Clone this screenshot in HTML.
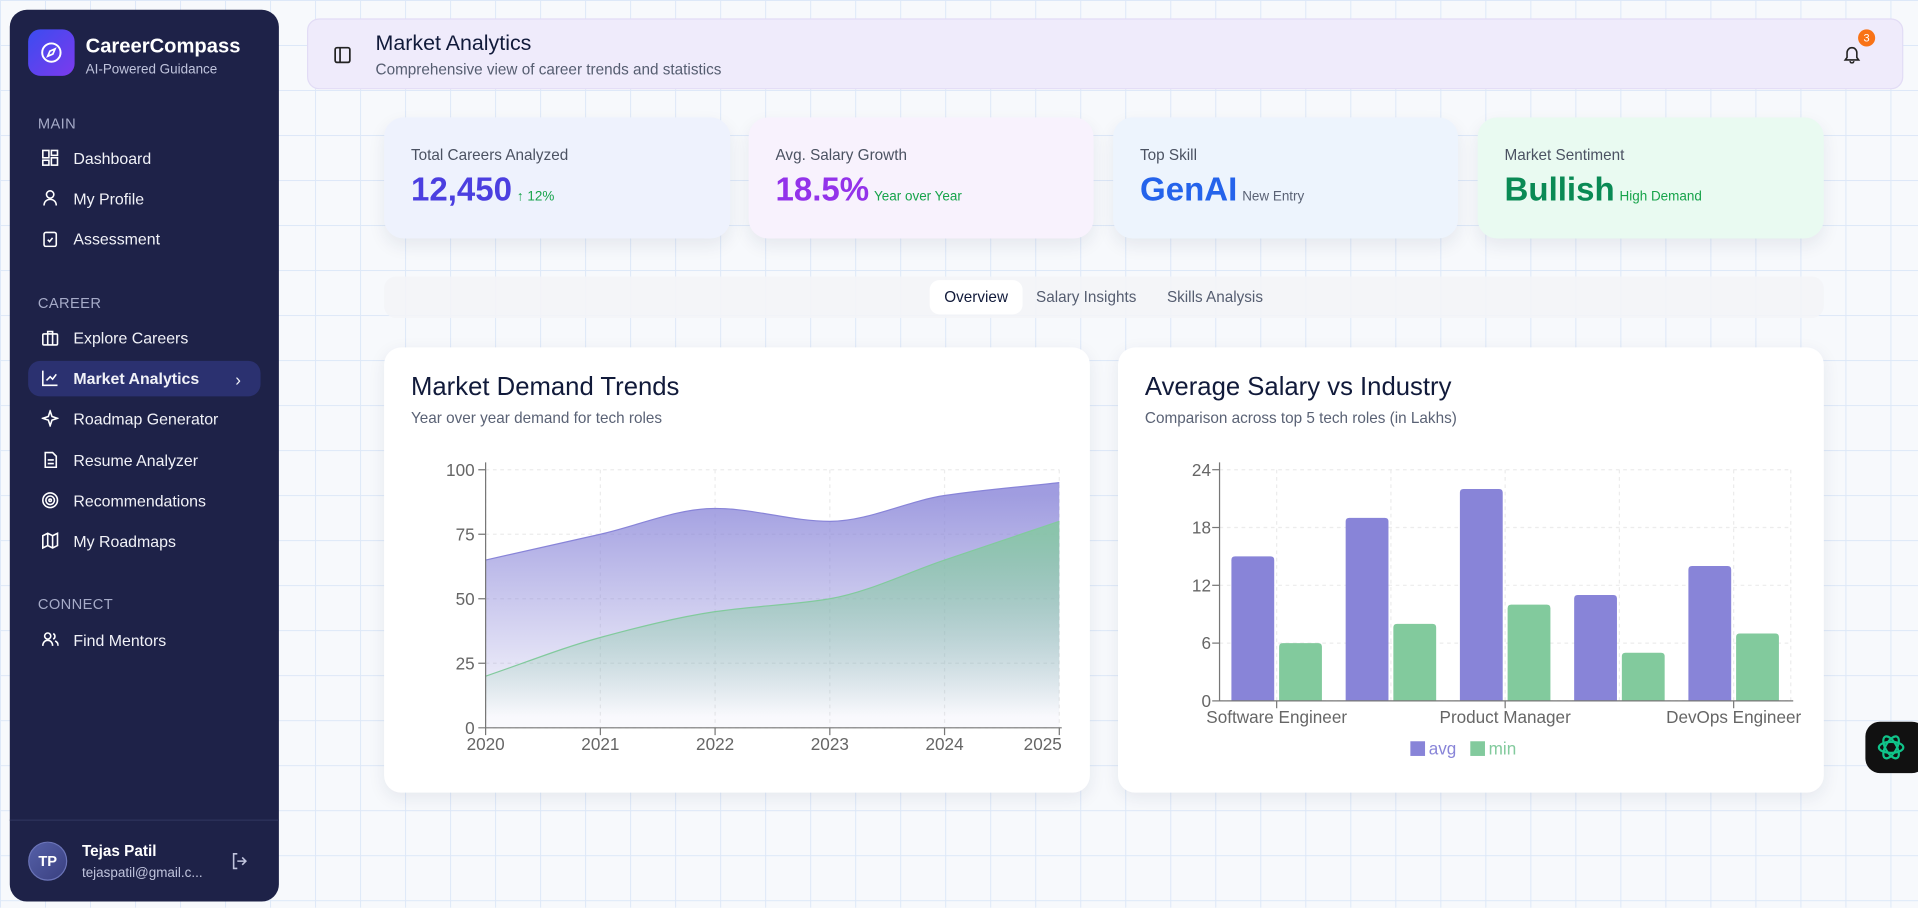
<!DOCTYPE html>
<html><head><meta charset="utf-8">
<style>
*{box-sizing:border-box;margin:0;padding:0}
html,body{width:1918px;height:908px;overflow:hidden;font-family:"Liberation Sans",sans-serif}
body{background:#f7f9fc}
#root{position:absolute;left:0;top:0;width:1568px;height:742px;transform:scale(1.22321);transform-origin:0 0;
background-color:#f7f9fc;
background-image:linear-gradient(#dde8f8 1px,transparent 1px),linear-gradient(90deg,#dde8f8 1px,transparent 1px);
background-size:36.8px 36.8px}
.abs{position:absolute}
.side{left:8px;top:8px;width:220px;height:729px;background:#1e2248;border-radius:14px;color:#fff}
.nav{position:absolute;left:15px;width:190px;height:29px;border-radius:10px;font-size:13px;display:flex;align-items:center;padding-left:37px;color:#f1f2f8}
.nav svg{position:absolute;left:11px;top:7px}
.sec{position:absolute;left:23px;font-size:12px;color:#a6abc8;letter-spacing:.3px}
.card{position:absolute;border-radius:16px;box-shadow:0 6px 14px rgba(30,40,80,.08)}
.lbl{position:absolute;left:22px;top:24px;font-size:12.5px;color:#4b5262}
.val{position:absolute;left:22px;top:44px;font-size:27px;font-weight:bold;white-space:nowrap}
.val span{font-size:11px;font-weight:normal;margin-left:4px}
.panel{position:absolute;top:284px;width:577px;height:364px;background:#fff;border-radius:14px;box-shadow:0 4px 14px rgba(30,40,80,.08)}
.ptitle{position:absolute;left:22px;top:21px;font-size:21px;color:#111a3a}
.psub{position:absolute;left:22px;top:51px;font-size:12.5px;color:#5a6275}
</style></head><body>
<div id="root">
<div class="abs side">
  <div class="abs" style="left:15px;top:16px;width:38px;height:38px;border-radius:10px;background:linear-gradient(135deg,#3b4cf0,#7c3aed)">
    <svg width="38" height="38"><circle cx="19" cy="19" r="7.5" fill="none" stroke="#fff" stroke-width="1.6"/><path d="M22 16l-1.8 4.2L16 22l1.8-4.2z" fill="none" stroke="#fff" stroke-width="1.4"/></svg>
  </div>
  <div class="abs" style="left:62px;top:21px;font-size:16.5px;font-weight:bold">CareerCompass</div>
  <div class="abs" style="left:62px;top:43px;font-size:11px;color:#c0c4dd">AI-Powered Guidance</div>
  <div class="sec" style="top:86px;left:23px">MAIN</div>
  <div class="nav" style="top:107px"><svg width="14" height="14" fill="none" stroke="#fff" stroke-width="1.3"><rect x="1" y="1" width="5" height="6"/><rect x="8" y="1" width="5" height="4"/><rect x="1" y="9" width="5" height="4"/><rect x="8" y="7" width="5" height="6"/></svg>Dashboard</div>
  <div class="nav" style="top:140px"><svg width="14" height="14" fill="none" stroke="#fff" stroke-width="1.3"><circle cx="7" cy="4" r="3"/><path d="M2 13c0-3 2-5 5-5s5 2 5 5"/></svg>My Profile</div>
  <div class="nav" style="top:173px"><svg width="14" height="14" fill="none" stroke="#fff" stroke-width="1.3"><rect x="2" y="2" width="10" height="11.5" rx="1.5"/><path d="M5 8l1.5 1.5L9 6.5"/></svg>Assessment</div>
  <div class="sec" style="top:233px">CAREER</div>
  <div class="nav" style="top:254px"><svg width="14" height="14" fill="none" stroke="#fff" stroke-width="1.3"><rect x="1" y="4" width="12" height="9" rx="1"/><path d="M5 4V2h4v2M5 4v9M9 4v9"/></svg>Explore Careers</div>
  <div class="nav" style="top:287px;background:#2b3170;font-weight:bold"><svg width="14" height="14" fill="none" stroke="#fff" stroke-width="1.3"><path d="M1 1v12h12M4 9l3-3 2 2 3-4"/></svg>Market Analytics<span style="position:absolute;right:16px;font-weight:normal;font-size:14px">›</span></div>
  <div class="nav" style="top:320px"><svg width="14" height="14" fill="none" stroke="#fff" stroke-width="1.3"><path d="M7 1l1.5 4.5L13 7l-4.5 1.5L7 13l-1.5-4.5L1 7l4.5-1.5z"/></svg>Roadmap Generator</div>
  <div class="nav" style="top:354px"><svg width="14" height="14" fill="none" stroke="#fff" stroke-width="1.3"><path d="M3 1h6l3 3v9H3z M5 7h5M5 10h5"/></svg>Resume Analyzer</div>
  <div class="nav" style="top:387px"><svg width="14" height="14" fill="none" stroke="#fff" stroke-width="1.3"><circle cx="7" cy="7" r="6"/><circle cx="7" cy="7" r="3.5"/><circle cx="7" cy="7" r="1"/></svg>Recommendations</div>
  <div class="nav" style="top:420px"><svg width="14" height="14" fill="none" stroke="#fff" stroke-width="1.3"><path d="M1 3l4-2 4 2 4-2v10l-4 2-4-2-4 2zM5 1v10M9 3v10"/></svg>My Roadmaps</div>
  <div class="sec" style="top:479px">CONNECT</div>
  <div class="nav" style="top:501px"><svg width="14" height="14" fill="none" stroke="#fff" stroke-width="1.3"><circle cx="5" cy="4" r="2.5"/><path d="M1 12c0-3 2-4.5 4-4.5s4 1.5 4 4.5M9.5 2a2.5 2.5 0 010 4.5M11 8c1.5.5 2.5 2 2.5 4"/></svg>Find Mentors</div>
  <div class="abs" style="left:0;top:662px;width:220px;height:1px;background:#2e335c"></div>
  <div class="abs" style="left:15px;top:680px;width:32px;height:32px;border-radius:50%;background:linear-gradient(135deg,#5560a8,#3a4080);border:1.5px solid #6b74b8;font-size:12px;font-weight:bold;display:flex;align-items:center;justify-content:center">TP</div>
  <div class="abs" style="left:59px;top:681px;font-size:12.5px;font-weight:bold">Tejas Patil</div>
  <div class="abs" style="left:59px;top:700px;font-size:11px;color:#c0c4dd">tejaspatil@gmail.c...</div>
  <svg class="abs" style="left:181px;top:689px" width="14" height="14" fill="none" stroke="#c0c4dd" stroke-width="1.3"><path d="M5 1H2v12h3M9 4l3 3-3 3M12 7H5"/></svg>
</div>

<div class="abs" style="left:251px;top:15px;width:1305px;height:58px;background:#efebfb;border:1px solid #e2dcf5;border-radius:10px">
  <svg class="abs" style="left:21px;top:22px" width="14" height="14" fill="none" stroke="#222" stroke-width="1.4"><rect x="1" y="1" width="12" height="12" rx="1.5"/><path d="M5 1v12"/></svg>
  <div class="abs" style="left:55px;top:9px;font-size:17.5px;color:#111a3a">Market Analytics</div>
  <div class="abs" style="left:55px;top:34px;font-size:12.5px;color:#555d70">Comprehensive view of career trends and statistics</div>
  <svg class="abs" style="left:1255px;top:21px" width="14" height="15" fill="none" stroke="#222" stroke-width="1.3"><path d="M3 10V6a4 4 0 018 0v4l1.5 2h-11zM5.5 13a1.5 1.5 0 003 0"/></svg>
  <div class="abs" style="left:1267px;top:8px;width:14px;height:14px;border-radius:50%;background:#f97316;color:#fff;font-size:9px;display:flex;align-items:center;justify-content:center">3</div>
</div>

<div class="card" style="left:314px;top:96px;width:283px;height:99px;background:#eef2fd"><div class="lbl">Total Careers Analyzed</div><div class="val" style="color:#4b3fe0">12,450<span style="color:#16a34a">↑ 12%</span></div></div>
<div class="card" style="left:612px;top:96px;width:282px;height:99px;background:#f8f2fd"><div class="lbl">Avg. Salary Growth</div><div class="val" style="color:#9333ea">18.5%<span style="color:#16a34a">Year over Year</span></div></div>
<div class="card" style="left:910px;top:96px;width:282px;height:99px;background:#edf4fd"><div class="lbl">Top Skill</div><div class="val" style="color:#2563eb">GenAI<span style="color:#5a6275">New Entry</span></div></div>
<div class="card" style="left:1208px;top:96px;width:283px;height:99px;background:#e9faf1"><div class="lbl">Market Sentiment</div><div class="val" style="color:#0a8a55">Bullish<span style="color:#16a34a">High Demand</span></div></div>

<div class="abs" style="left:314px;top:226px;width:1177px;height:34px;background:#f3f4f7;border-radius:10px;opacity:.9"></div>
<div class="abs" style="left:760px;top:229px;width:76px;height:28px;background:#fff;border-radius:8px;font-size:12.5px;color:#111a3a;display:flex;align-items:center;justify-content:center">Overview</div>
<div class="abs" style="left:847px;top:236px;font-size:12.5px;color:#555d70">Salary Insights</div>
<div class="abs" style="left:954px;top:236px;font-size:12.5px;color:#555d70">Skills Analysis</div>

<div class="panel" style="left:314px">
  <div class="ptitle">Market Demand Trends</div>
  <div class="psub">Year over year demand for tech roles</div>
  <svg id="c1" class="abs" style="left:0;top:0" width="577" height="364"></svg>
</div>
<div class="panel" style="left:914px">
  <div class="ptitle">Average Salary vs Industry</div>
  <div class="psub">Comparison across top 5 tech roles (in Lakhs)</div>
  <svg id="c2" class="abs" style="left:0;top:0" width="577" height="364"></svg>
</div>

<div class="abs" style="left:1525px;top:590px;width:50px;height:42px;border-radius:12px;background:#111;">
  <svg width="42" height="42"><g fill="none" stroke="#10c48a" stroke-width="1.8"><ellipse cx="21" cy="21" rx="10" ry="4.5"/><ellipse cx="21" cy="21" rx="10" ry="4.5" transform="rotate(60 21 21)"/><ellipse cx="21" cy="21" rx="10" ry="4.5" transform="rotate(120 21 21)"/></g></svg>
</div>
</div>

<script>
const NS='http://www.w3.org/2000/svg';
// Chart 1 data
const years=['2020','2021','2022','2023','2024','2025'];
const demandA=[65,75,85,80,90,95];
const demandB=[20,35,45,50,65,80];
const yTicks1=[0,25,50,75,100];
// Chart 2 data
const roles=['Software Engineer','Data Scientist','Product Manager','UX Designer','DevOps Engineer'];
const salaryAvg=[15,19,22,11,14];
const salaryMin=[6,8,10,5,7];
const yTicks2=[0,6,12,18,24];

function el(p,tag,attrs,txt){const e=document.createElementNS(NS,tag);for(const k in attrs)e.setAttribute(k,attrs[k]);if(txt!=null)e.textContent=txt;p.appendChild(e);return e;}
function monotone(pts){
  const n=pts.length;const d=[],m=[];
  for(let i=0;i<n-1;i++)d.push((pts[i+1][1]-pts[i][1])/(pts[i+1][0]-pts[i][0]));
  for(let i=0;i<n;i++){
    if(i===0)m.push(d[0]);else if(i===n-1)m.push(d[n-2]);
    else m.push(d[i-1]*d[i]<=0?0:2/(1/d[i-1]+1/d[i]));
  }
  let s='M'+pts[0][0]+','+pts[0][1];
  for(let i=0;i<n-1;i++){const h=(pts[i+1][0]-pts[i][0])/3;
    s+=' C'+(pts[i][0]+h)+','+(pts[i][1]+m[i]*h)+' '+(pts[i+1][0]-h)+','+(pts[i+1][1]-m[i+1]*h)+' '+pts[i+1][0]+','+pts[i+1][1];}
  return s;
}
// ---- Chart 1 ----
(function(){
  const s=document.getElementById('c1');
  const X0=83,X1=552,Y0=311,Y1=100;
  const x=i=>X0+(X1-X0)*i/(years.length-1);
  const y=v=>Y0-(Y0-Y1)*v/100;
  const defs=el(s,'defs',{});
  const g1=el(defs,'linearGradient',{id:'ga',x1:0,y1:0,x2:0,y2:1});
  el(g1,'stop',{offset:'5%','stop-color':'#8884d8','stop-opacity':.8});el(g1,'stop',{offset:'95%','stop-color':'#8884d8','stop-opacity':.05});
  const g2=el(defs,'linearGradient',{id:'gb',x1:0,y1:0,x2:0,y2:1});
  el(g2,'stop',{offset:'5%','stop-color':'#82ca9d','stop-opacity':.8});el(g2,'stop',{offset:'95%','stop-color':'#82ca9d','stop-opacity':0});
  yTicks1.forEach(t=>{const l=el(s,'line',{x1:X0,x2:X1,y1:y(t),y2:y(t),stroke:'#ececec','stroke-dasharray':'3 3'});});
  years.forEach((yr,i)=>{el(s,'line',{x1:x(i),x2:x(i),y1:Y1,y2:Y0,stroke:'#ececec','stroke-dasharray':'3 3'});});
  [[demandA,'ga','#8884d8','area-series-a'],[demandB,'gb','#82ca9d','area-series-b']].forEach(([arr,gid,col,nm])=>{
    const pts=arr.map((v,i)=>[x(i),y(v)]);const line=monotone(pts);
    const a=el(s,'path',{d:line+' L'+X1+','+Y0+' L'+X0+','+Y0+'Z',fill:'url(#'+gid+')'});
    
    
    el(s,'path',{d:line,fill:'none',stroke:col,'stroke-width':1});
  });
  el(s,'line',{x1:X0,x2:X0,y1:Y1-6,y2:Y0,stroke:'#777'});
  el(s,'line',{x1:X0,x2:X1+2,y1:Y0,y2:Y0,stroke:'#777'});
  yTicks1.forEach(t=>{el(s,'line',{x1:X0-6,x2:X0,y1:y(t),y2:y(t),stroke:'#777'});
    const tx=el(s,'text',{x:X0-9,y:y(t)+5,'text-anchor':'end','font-size':14,fill:'#666','font-family':'Liberation Sans'},t);
    });
  years.forEach((yr,i)=>{el(s,'line',{x1:x(i),x2:x(i),y1:Y0,y2:Y0+6,stroke:'#777'});
    const tx=el(s,'text',{x:i===years.length-1?x(i)+2:x(i),y:Y0+18,'text-anchor':i===years.length-1?'end':'middle','font-size':14,fill:'#666','font-family':'Liberation Sans'},yr);
    });
})();
// ---- Chart 2 ----
(function(){
  const s=document.getElementById('c2');
  const X0=83,X1=550,Y0=289,Y1=100;
  const band=(X1-X0)/roles.length;
  const y=v=>Y0-(Y0-Y1)*v/24;
  const bw=35,gap=4;
  yTicks2.forEach(t=>{el(s,'line',{x1:X0,x2:X1,y1:y(t),y2:y(t),stroke:'#ececec','stroke-dasharray':'3 3'});});
  roles.forEach((r,i)=>{const cx=X0+band*(i+.5);el(s,'line',{x1:cx,x2:cx,y1:Y1,y2:Y0,stroke:'#ececec','stroke-dasharray':'3 3'});});
  el(s,'line',{x1:X1,x2:X1,y1:Y1,y2:Y0,stroke:'#ececec','stroke-dasharray':'3 3'});
  function bar(v,xl,col,nm){const yt=y(v),r=3;
    const p=el(s,'path',{d:`M${xl},${Y0} V${yt+r} Q${xl},${yt} ${xl+r},${yt} H${xl+bw-r} Q${xl+bw},${yt} ${xl+bw},${yt+r} V${Y0}Z`,fill:col});
    
    }
  roles.forEach((r,i)=>{const c=X0+band*(i+.5);
    bar(salaryAvg[i],c-gap/2-bw,'#8884d8','bar-avg');
    bar(salaryMin[i],c+gap/2,'#82ca9d','bar-min');});
  el(s,'line',{x1:X0,x2:X0,y1:Y1-6,y2:Y0,stroke:'#777'});
  el(s,'line',{x1:X0,x2:X1+2,y1:Y0,y2:Y0,stroke:'#777'});
  yTicks2.forEach(t=>{el(s,'line',{x1:X0-6,x2:X0,y1:y(t),y2:y(t),stroke:'#777'});
    const tx=el(s,'text',{x:X0-7,y:y(t)+5,'text-anchor':'end','font-size':14,fill:'#666','font-family':'Liberation Sans'},t);
    });
  roles.forEach((r,i)=>{if(i%2)return;const c=X0+band*(i+.5);
    el(s,'line',{x1:c,x2:c,y1:Y0,y2:Y0+6,stroke:'#777'});
    const tx=el(s,'text',{x:c,y:Y0+18,'text-anchor':'middle','font-size':14,fill:'#666','font-family':'Liberation Sans'},r);
    });
  const lg=el(s,'g',{});
  
  
  el(lg,'rect',{x:239,y:322,width:12,height:12,fill:'#8884d8'});
  el(lg,'text',{x:254,y:333,'font-size':14,fill:'#8884d8','font-family':'Liberation Sans'},'avg');
  el(lg,'rect',{x:288,y:322,width:12,height:12,fill:'#82ca9d'});
  el(lg,'text',{x:303,y:333,'font-size':14,fill:'#82ca9d','font-family':'Liberation Sans'},'min');
})();
</script>
</body></html>
